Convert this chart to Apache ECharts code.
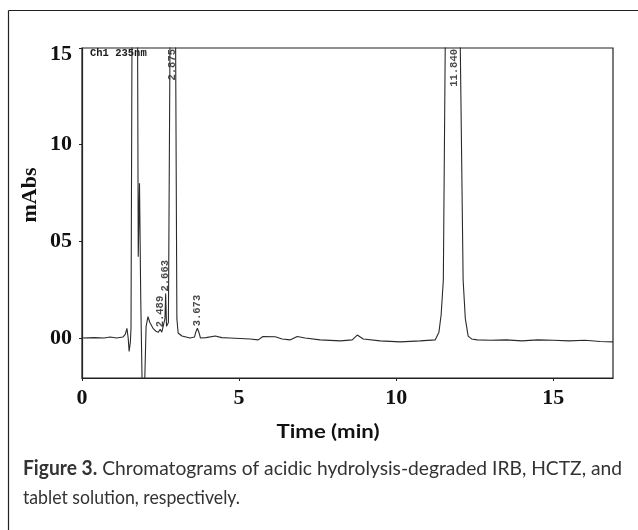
<!DOCTYPE html>
<html><head><meta charset="utf-8">
<script src="https://cdn.jsdelivr.net/npm/echarts@6/dist/echarts.min.js"></script>
<style>html,body{margin:0;padding:0;background:#fff}#c{width:638px;height:530px}</style>
</head><body><div id="c"></div>
<script>
// Retention time (min) and detector signal (mAbs)
const timeMin = [0.00,0.40,0.70,0.90,1.10,1.30,1.38,1.43,1.47,1.50,1.54,1.56,1.59,1.63,1.68,1.73,1.77,1.79,1.83,1.87,1.91,1.96,2.00,2.04,2.10,2.16,2.26,2.35,2.43,2.489,2.54,2.60,2.64,2.663,2.69,2.75,2.80,2.84,2.875,2.92,2.98,3.02,3.06,3.18,3.44,3.58,3.62,3.673,3.72,3.77,3.95,4.24,4.45,4.71,5.35,5.61,5.76,6.15,6.37,6.62,6.85,7.10,7.58,8.22,8.60,8.76,8.95,9.49,10.13,10.76,11.24,11.30,11.36,11.43,11.50,11.56,11.65,11.75,11.84,11.93,12.04,12.13,12.20,12.29,12.40,12.58,13.00,13.50,14.00,14.50,15.00,15.50,16.00,16.50,16.90];
const signal = [0.00,0.02,0.00,0.05,0.00,0.05,0.20,0.50,0.00,-0.70,-0.20,0.50,15.0,40,55,40,15,4.2,8.0,2.0,-2.0,-8.0,-2.0,0.6,1.1,0.8,0.5,0.35,0.30,0.45,0.30,0.40,1.0,2.3,0.6,0.8,15,40,50,40,15,1.0,0.26,0.10,0.00,0.05,0.30,0.50,0.30,0.00,0.02,0.10,0.02,0.00,-0.05,-0.10,0.08,0.06,-0.05,-0.10,0.08,0.00,-0.10,-0.15,-0.10,0.15,-0.05,-0.15,-0.20,-0.15,-0.10,-0.05,0.30,1.2,3.0,15,40,58,60,50,15,3.0,1.0,0.10,-0.05,-0.10,-0.12,-0.10,-0.15,-0.10,-0.12,-0.15,-0.12,-0.18,-0.20];

// Integrated peak annotations
const peakTimes = [2.489, 2.663, 2.875, 3.673, 11.840];
const peakApex = [0.45, 2.3, 50, 0.5, 60];
const peakLabels = ['2.489', '2.663', '2.875', '3.673', '11.840'];

// Axis ticks
const xTicks = [0, 5, 10, 15];
const xTickLabels = ['0', '5', '10', '15'];
const yTicks = [0, 5, 10, 15];
const yTickLabels = ['00', '05', '10', '15'];

const xMin = 0, xMax = 16.9, yMin = -2.07, yMax = 15;

const mctx = document.createElement('canvas').getContext('2d');
function textW(font, s) { mctx.font = font; return mctx.measureText(s).width; }

const cap1a = 'Figure 3.';
const cap1b = ' Chromatograms of acidic hydrolysis-degraded IRB, HCTZ, and';
const cap2 = 'tablet solution, respectively.';
const capFont = '20px Lato';
const capBold = 'bold 20px Lato';
const s1 = 599 / (textW(capBold, cap1a) + textW(capFont, cap1b));
const s2 = 217 / textW(capFont, cap2);
const xName = 'Time (min)';
const sx = 103 / textW('bold 19px Lato', xName);

const lineData = timeMin.map((t, i) => [t, signal[i]]);
const labelData = peakTimes.map((t, i) => {
  const off = peakApex[i] > yMax;
  return {
    value: [t, Math.min(peakApex[i], yMax)],
    label: {
      show: true,
      formatter: peakLabels[i],
      rotate: 90,
      position: off ? 'bottom' : 'top',
      distance: off ? 1 : 2,
      align: off ? 'right' : 'left',
      verticalAlign: 'middle',
      fontFamily: 'Liberation Mono',
      fontWeight: 'bold',
      fontSize: 10.5,
      color: '#1a1a1a'
    }
  };
});

const chart = echarts.init(document.getElementById('c'), null, { renderer: 'canvas' });
chart.setOption({
  animation: false,
  backgroundColor: '#fff',
  grid: { left: 82, right: 25, top: 48, bottom: 152, show: true, borderColor: '#222', borderWidth: 1.2, backgroundColor: 'transparent' },
  xAxis: {
    type: 'value', min: xMin, max: xMax,
    axisLine: { show: true, onZero: false, lineStyle: { color: '#222', width: 1.2 } },
    splitLine: { show: false },
    axisTick: { show: true, length: 3, customValues: xTicks, lineStyle: { color: '#222' } },
    axisLabel: {
      customValues: xTicks,
      formatter: v => xTickLabels[xTicks.indexOf(v)],
      fontFamily: 'Liberation Serif', fontWeight: 'bold', fontSize: 22, color: '#111', margin: 9
    }
  },
  yAxis: {
    type: 'value', min: yMin, max: yMax,
    axisLine: { show: true, onZero: false, lineStyle: { color: '#222', width: 1.2 } },
    splitLine: { show: false },
    axisTick: { show: true, length: 3, customValues: yTicks, lineStyle: { color: '#222' } },
    axisLabel: {
      customValues: yTicks,
      formatter: v => {
        const s = yTickLabels[yTicks.indexOf(v)];
        return v === yMax ? '{t|' + s + '}' : s;
      },
      rich: { t: { padding: [12, 0, 0, 0], fontFamily: 'Liberation Serif', fontWeight: 'bold', fontSize: 22, color: '#111' } },
      fontFamily: 'Liberation Serif', fontWeight: 'bold', fontSize: 22, color: '#111', margin: 10
    }
  },
  series: [
    {
      type: 'line', data: lineData, showSymbol: false, symbol: 'none', clip: true,
      lineStyle: { color: '#2a2a2a', width: 1.1 }
    },
    {
      type: 'scatter', data: labelData, symbolSize: 0, clip: false, silent: true
    }
  ],
  graphic: [
    { type: 'line', shape: { x1: 8.5, y1: 10.5, x2: 638, y2: 10.5 }, style: { stroke: '#222', lineWidth: 1.2 } },
    { type: 'line', shape: { x1: 8.5, y1: 10.5, x2: 8.5, y2: 530 }, style: { stroke: '#222', lineWidth: 1.2 } },
    { type: 'text', x: 90, y: 53, style: { text: 'Ch1 235nm', font: 'bold 10.5px "Liberation Mono"', fill: '#1a1a1a', verticalAlign: 'middle' } },
    { type: 'text', x: 30, y: 195, rotation: Math.PI / 2, style: { text: 'mAbs', font: 'bold 22px "Liberation Serif"', fill: '#111', align: 'center', verticalAlign: 'middle' } },
    { type: 'text', x: 328, y: 432, scaleX: sx, style: { text: xName, font: 'bold 19px Lato', fill: '#111', align: 'center', verticalAlign: 'middle' } },
    { type: 'text', x: 23, y: 469, scaleX: s1, style: {
        text: '{b|' + cap1a + '}' + cap1b, font: capFont, fill: '#333', verticalAlign: 'middle',
        rich: { b: { font: capBold, fill: '#333' } } } },
    { type: 'text', x: 23, y: 498, scaleX: s2, style: { text: cap2, font: capFont, fill: '#333', verticalAlign: 'middle' } }
  ]
});
</script>
</body></html>
